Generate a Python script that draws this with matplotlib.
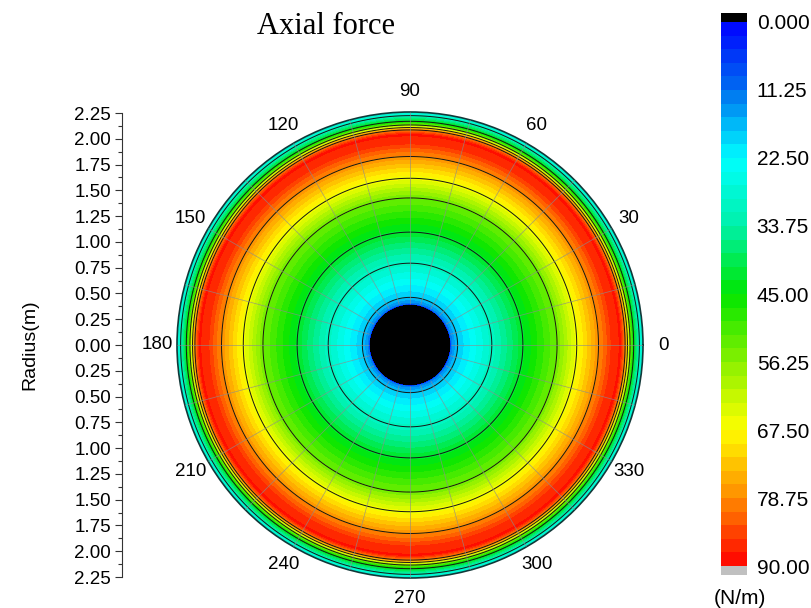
import numpy as np
import matplotlib
matplotlib.use('Agg')
import matplotlib.pyplot as plt
from matplotlib.colors import LinearSegmentedColormap

# radial profile of the axial force (same at every angle)
radius_m = [0.0, 0.39, 0.40, 0.46, 0.79, 1.09, 1.42, 1.61, 1.82, 1.95, 2.03,
            2.077, 2.10, 2.125, 2.16, 2.215, 2.25]
force = [-5, -5, 12, 18, 30, 42, 54, 66, 78, 86, 88,
         78, 66, 54, 42, 30, 25]
line_levels = [18, 30, 42, 54, 66, 78]

cbar_ticks = [0, 11.25, 22.5, 33.75, 45, 56.25, 67.5, 78.75, 90]
cbar_labels = ['0.000', '11.25', '22.50', '33.75', '45.00', '56.25', '67.50', '78.75', '90.00']
angle_labels = ['0', '30', '60', '90', '120', '150', '180', '210', '240', '270', '300', '330']
radius_ticks = [-2.25, -2.0, -1.75, -1.5, -1.25, -1.0, -0.75, -0.5, -0.25, 0.0,
                0.25, 0.5, 0.75, 1.0, 1.25, 1.5, 1.75, 2.0, 2.25]
radius_labels = ['2.25', '2.00', '1.75', '1.50', '1.25', '1.00', '0.75', '0.50', '0.25', '0.00',
                 '0.25', '0.50', '0.75', '1.00', '1.25', '1.50', '1.75', '2.00', '2.25']

plt.rcParams['font.family'] = ['Liberation Sans', 'DejaVu Sans']

cmap = LinearSegmentedColormap.from_list(
    'axial', ['#0000ff', '#0070f0', '#00ffff', '#00f0a8', '#00e600',
              '#88f000', '#ffff00', '#ff8c00', '#ff0000'])
cmap.set_under('black')
cmap.set_over('#c0c0c0')

fig = plt.figure(figsize=(8.11, 6.08), dpi=100)
W, H = 811, 608

# polar contour map
ax = fig.add_axes([177 / W, 30 / H, 466 / W, 466 / H], projection='polar')
theta = np.linspace(0, 2 * np.pi, 361)
TT, RR = np.meshgrid(theta, radius_m)
VV = np.tile(np.array(force, dtype=float)[:, None], (1, len(theta)))
cf = ax.contourf(TT, RR, VV, levels=np.linspace(0, 90, 41), cmap=cmap, extend='both')
ax.contour(TT, RR, VV, levels=line_levels, colors='#151515', linewidths=0.7)

# faint mesh spokes, not over the hole
spokes = np.deg2rad(np.arange(0, 360, 15))
ax.vlines(spokes, 0.40, 2.25, colors='#8c8c8c', linewidths=0.6, alpha=0.7, zorder=3)

ax.set_ylim(0, 2.25)
ax.set_yticks([])
ax.set_xticks(np.deg2rad(np.arange(0, 360, 30)))
ax.set_xticklabels(angle_labels)
ax.grid(False)
ax.tick_params(axis='x', pad=4, labelsize=13.5)
ax.spines['polar'].set_color('#123838')
ax.spines['polar'].set_linewidth(1.2)

# radius scale on the left
lax = fig.add_axes([122 / W, 31 / H, 0.001, 464 / H])
lax.set_ylim(-2.25, 2.25)
lax.patch.set_visible(False)
for s in ['top', 'right', 'bottom']:
    lax.spines[s].set_visible(False)
lax.spines['left'].set_color('#333333')
lax.spines['left'].set_linewidth(0.8)
lax.set_xticks([])
lax.set_yticks(radius_ticks, labels=radius_labels)
lax.set_yticks(np.arange(-2.125, 2.2, 0.25), minor=True)
lax.tick_params(axis='y', which='major', length=5, width=0.8, pad=3, labelsize=13.5, color='#333333')
lax.tick_params(axis='y', which='minor', length=3, width=0.8, color='#333333')

fig.text(30 / W, 1 - 345 / H, 'Radius(m)', rotation=90, ha='center', va='center', fontsize=14)
fig.text(326 / W, 1 - 27 / H, 'Axial force', ha='center', va='center', fontsize=22,
         family=['Liberation Serif', 'DejaVu Serif'])

# colorbar, 0 at the top; the axes box includes the two end caps
cax = fig.add_axes([721 / W, 33 / H, 26 / W, 562 / H])
cb = fig.colorbar(cf, cax=cax, extendfrac=9 / 545, extendrect=True)
cb.set_ticks(cbar_ticks, labels=cbar_labels)
cax.invert_yaxis()
cb.outline.set_visible(False)
cax.tick_params(length=0, pad=7, labelsize=15)
fig.text(740 / W, 1 - 598 / H, '(N/m)', ha='center', va='center', fontsize=15)

plt.savefig('out.png', dpi=100)
